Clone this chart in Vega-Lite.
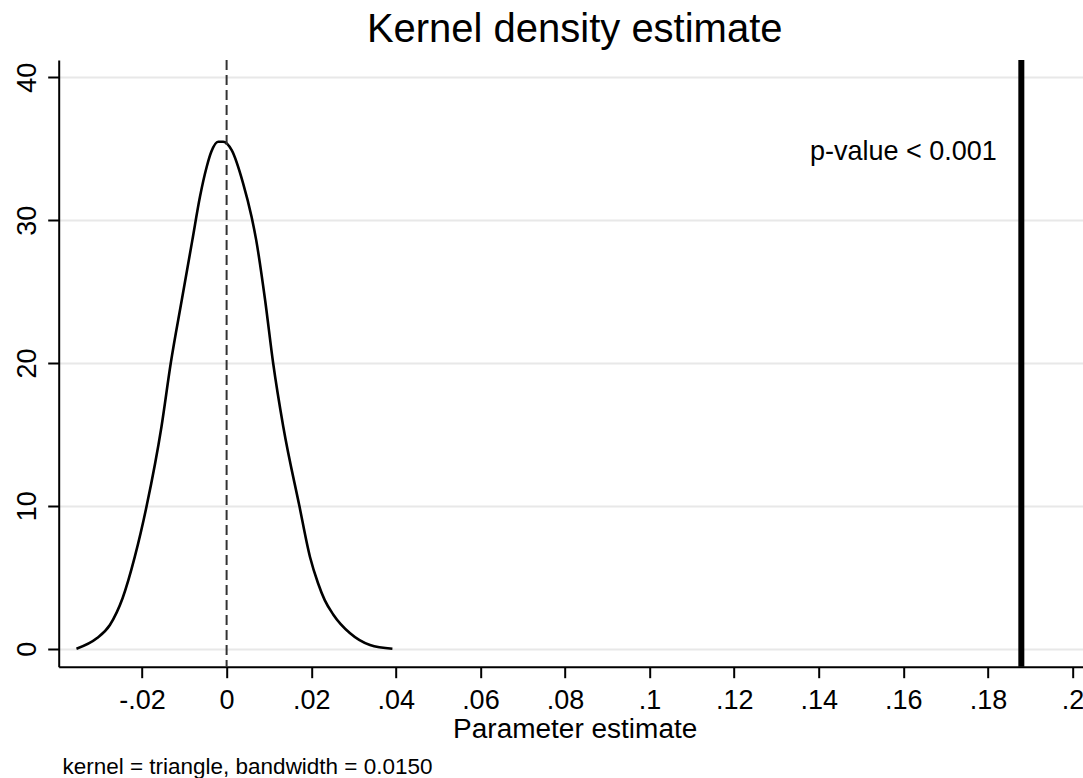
{
  "$schema": "https://vega.github.io/schema/vega-lite/v6.json",
  "autosize": {"type": "none"},
  "padding": {"left": 58.7, "top": 60, "right": 0, "bottom": 111.3},
  "width": 1032,
  "height": 606.7,
  "background": "white",
  "title": {
    "text": "Kernel density estimate",
    "font": "Liberation Sans",
    "fontSize": 40,
    "fontWeight": "normal",
    "color": "black",
    "anchor": "middle",
    "frame": "group",
    "baseline": "alphabetic",
    "offset": -25
  },
  "data": {
    "values": [
      {"estimate": -0.0355, "density": 0.0},
      {"estimate": -0.0307, "density": 0.73},
      {"estimate": -0.0276, "density": 1.66},
      {"estimate": -0.0246, "density": 3.53},
      {"estimate": -0.0217, "density": 6.44},
      {"estimate": -0.0189, "density": 10.0},
      {"estimate": -0.0154, "density": 15.54},
      {"estimate": -0.0132, "density": 20.0},
      {"estimate": -0.0106, "density": 24.41},
      {"estimate": -0.0081, "density": 28.6},
      {"estimate": -0.0063, "density": 31.64},
      {"estimate": -0.0047, "density": 33.74},
      {"estimate": -0.0036, "density": 34.8},
      {"estimate": -0.002, "density": 35.49},
      {"estimate": -0.0008, "density": 35.49},
      {"estimate": 0.0012, "density": 34.9},
      {"estimate": 0.0039, "density": 32.58},
      {"estimate": 0.0059, "density": 30.24},
      {"estimate": 0.007, "density": 28.6},
      {"estimate": 0.0091, "density": 24.41},
      {"estimate": 0.011, "density": 20.0},
      {"estimate": 0.0134, "density": 15.54},
      {"estimate": 0.0172, "density": 10.0},
      {"estimate": 0.0197, "density": 6.44},
      {"estimate": 0.0216, "density": 4.6},
      {"estimate": 0.0232, "density": 3.4},
      {"estimate": 0.0252, "density": 2.4},
      {"estimate": 0.0292, "density": 1.08},
      {"estimate": 0.0339, "density": 0.26},
      {"estimate": 0.0392, "density": 0.0}
    ]
  },
  "layer": [
    {
      "mark": {"type": "line", "color": "black", "strokeWidth": 2.6, "interpolate": "monotone"},
      "encoding": {
        "x": {
          "field": "estimate",
          "type": "quantitative",
          "scale": {"domain": [-0.0397, 0.2043], "nice": false, "zero": false},
          "axis": {
            "title": "Parameter estimate",
            "values": [-0.02, 0, 0.02, 0.04, 0.06, 0.08, 0.1, 0.12, 0.14, 0.16, 0.18, 0.2],
            "labelExpr": "datum.value == 0 ? '0' : (datum.value < 0 ? '-' : '') + replace(format(abs(datum.value), '.2~f'), '0.', '.')",
            "grid": false,
            "tickSize": 11,
            "labelPadding": 10,
            "titlePadding": 2
          }
        },
        "y": {
          "field": "density",
          "type": "quantitative",
          "scale": {"domain": [-1.26, 41.21], "nice": false, "zero": false},
          "axis": {
            "title": null,
            "values": [0, 10, 20, 30, 40],
            "labelAngle": -90,
            "labelAlign": "center",
            "labelBaseline": "alphabetic",
            "labelPadding": 12,
            "tickSize": 11,
            "grid": true,
            "gridColor": "#e8e8e8",
            "gridWidth": 2
          }
        }
      }
    },
    {
      "data": {"values": [{}]},
      "mark": {"type": "rule", "color": "#333333", "strokeWidth": 2, "strokeDash": [10, 5]},
      "encoding": {"x": {"datum": 0}}
    },
    {
      "data": {"values": [{}]},
      "mark": {"type": "rule", "color": "black", "strokeWidth": 6},
      "encoding": {"x": {"datum": 0.1879}}
    },
    {
      "data": {"values": [{}]},
      "mark": {"type": "text", "text": "p-value < 0.001", "align": "right", "baseline": "alphabetic", "font": "Liberation Sans", "fontSize": 27, "color": "black"},
      "encoding": {"x": {"datum": 0.1821}, "y": {"datum": 34.2}}
    },
    {
      "data": {"values": [{}]},
      "mark": {"type": "text", "text": "kernel = triangle, bandwidth = 0.0150", "align": "left", "baseline": "alphabetic", "font": "Liberation Sans", "fontSize": 22.5, "color": "black"},
      "encoding": {"x": {"datum": -0.0388}, "y": {"datum": -8.75}}
    }
  ],
  "config": {
    "view": {"stroke": null},
    "font": "Liberation Sans",
    "axis": {
      "domainColor": "black",
      "domainWidth": 2,
      "tickColor": "black",
      "tickWidth": 2,
      "labelColor": "black",
      "labelFont": "Liberation Sans",
      "labelFontSize": 27,
      "titleColor": "black",
      "titleFont": "Liberation Sans",
      "titleFontSize": 28,
      "titleFontWeight": "normal"
    }
  }
}
